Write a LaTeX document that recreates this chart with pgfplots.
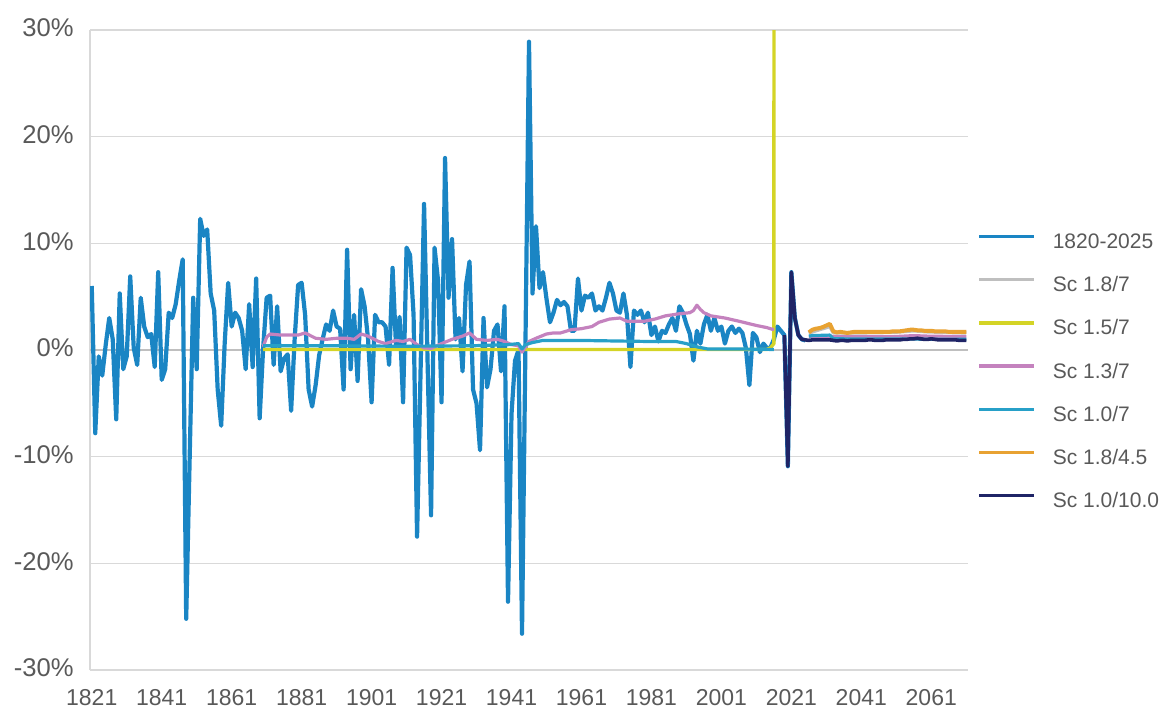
\documentclass[border=0pt]{standalone}
\usepackage{pgfplots}
\usepackage{pgfplotstable}
\pgfplotsset{compat=1.18}
\usepackage{fontspec}
\setmainfont{Liberation Sans}
\definecolor{txt}{HTML}{595959}
\definecolor{gridc}{HTML}{D9D9D9}
\definecolor{zeroc}{HTML}{BFBFBF}
\definecolor{cHist}{HTML}{1A85C4}
\definecolor{cGray}{HTML}{BFBFBF}
\definecolor{cYel}{HTML}{D4D426}
\definecolor{cPink}{HTML}{C482BE}
\definecolor{cLB}{HTML}{27A0C8}
\definecolor{cOr}{HTML}{E8A232}
\definecolor{cNavy}{HTML}{1F2466}

\pgfplotstableread{
year val
1821 6.0
1822 -7.8
1823 -0.6
1824 -2.4
1825 0.5
1826 3.0
1827 1.0
1828 -6.5
1829 5.3
1830 -1.8
1831 -0.6
1832 6.9
1833 0.2
1834 -1.4
1835 4.9
1836 2.2
1837 1.2
1838 1.5
1839 -1.6
1840 7.3
1841 -2.8
1842 -1.8
1843 3.5
1844 3.0
1845 4.3
1846 6.5
1847 8.5
1848 -25.2
1849 -10.0
1850 4.9
1851 -1.8
1852 12.3
1853 10.7
1854 11.3
1855 5.3
1856 3.7
1857 -3.7
1858 -7.1
1859 0.6
1860 6.3
1861 2.2
1862 3.5
1863 3.0
1864 1.8
1865 -1.8
1866 4.3
1867 -1.6
1868 6.7
1869 -6.4
1870 0.2
1871 4.9
1872 5.1
1873 -1.4
1874 4.1
1875 -2.0
1876 -0.8
1877 -0.4
1878 -5.7
1879 1.0
1880 6.1
1881 6.3
1882 3.3
1883 -3.7
1884 -5.3
1885 -3.3
1886 -0.5
1887 1.0
1888 2.4
1889 1.8
1890 3.7
1891 2.2
1892 2.0
1893 -3.7
1894 9.4
1895 -1.8
1896 3.3
1897 -2.9
1898 5.7
1899 4.1
1900 1.0
1901 -4.9
1902 3.3
1903 2.6
1904 2.6
1905 2.2
1906 -1.4
1907 7.7
1908 0.2
1909 3.1
1910 -4.9
1911 9.6
1912 8.9
1913 3.3
1914 -17.5
1915 -2.0
1916 13.7
1917 -1.0
1918 -15.5
1919 9.6
1920 6.5
1921 -4.9
1922 18.0
1923 4.9
1924 10.4
1925 1.0
1926 3.0
1927 -2.0
1928 6.1
1929 8.3
1930 -3.7
1931 -5.0
1932 -9.4
1933 3.0
1934 -3.5
1935 -1.8
1936 1.8
1937 2.4
1938 -2.0
1939 4.1
1940 -23.6
1941 -6.0
1942 -1.0
1943 0.0
1944 -26.6
1945 1.0
1946 28.9
1947 5.3
1948 11.6
1949 5.8
1950 7.3
1951 4.8
1952 2.6
1953 3.5
1954 4.7
1955 4.2
1956 4.5
1957 4.1
1958 1.8
1959 1.8
1960 6.7
1961 3.7
1962 5.1
1963 4.9
1964 5.3
1965 3.7
1966 4.1
1967 3.7
1968 4.9
1969 6.3
1970 5.3
1971 3.7
1972 3.5
1973 5.3
1974 3.3
1975 -1.6
1976 3.7
1977 3.3
1978 3.7
1979 2.6
1980 3.5
1981 1.4
1982 2.2
1983 0.8
1984 1.8
1985 1.6
1986 2.4
1987 3.0
1988 1.8
1989 4.1
1990 3.5
1991 2.4
1992 1.5
1993 -1.0
1994 1.8
1995 0.6
1996 2.4
1997 3.3
1998 1.8
1999 3.0
2000 1.8
2001 2.2
2002 0.6
2003 1.8
2004 2.2
2005 1.6
2006 2.0
2007 1.6
2008 0.2
2009 -3.3
2010 1.6
2011 1.2
2012 -0.2
2013 0.6
2014 0.2
2015 0.2
2016 1.0
2017 2.2
2018 1.8
2019 1.4
2020 -10.9
2021 7.3
2022 3.0
2023 1.4
2024 1.0
2025 0.9
}\hist

\pgfplotstableread{
year val
2019 1.4
2020 -10.9
2021 7.3
2022 3.0
2023 1.4
2024 1.0
2025 0.95
2026 0.9
2027 0.95
2028 0.95
2029 0.95
2030 0.95
2031 0.95
2032 0.95
2033 0.9
2034 0.85
2035 0.9
2036 0.9
2037 0.85
2038 0.9
2039 0.9
2040 0.9
2041 0.9
2042 0.9
2043 0.95
2044 0.95
2045 0.9
2046 0.9
2047 0.9
2048 0.95
2049 0.95
2050 0.95
2051 0.95
2052 0.95
2053 1.0
2054 1.0
2055 1.05
2056 1.05
2057 1.1
2058 1.05
2059 1.0
2060 1.0
2061 1.05
2062 1.0
2063 0.95
2064 0.95
2065 0.95
2066 0.95
2067 0.95
2068 0.95
2069 0.9
2070 0.9
2071 0.9
}\navy

\pgfplotstableread{
year val
2026 1.65
2027 1.9
2028 2.0
2029 2.05
2030 2.15
2031 2.3
2032 2.45
2033 1.75
2034 1.65
2035 1.7
2036 1.65
2037 1.6
2038 1.65
2039 1.7
2040 1.7
2041 1.7
2042 1.7
2043 1.7
2044 1.7
2045 1.7
2046 1.7
2047 1.7
2048 1.7
2049 1.7
2050 1.75
2051 1.75
2052 1.75
2053 1.8
2054 1.85
2055 1.9
2056 1.9
2057 1.85
2058 1.85
2059 1.8
2060 1.8
2061 1.8
2062 1.75
2063 1.75
2064 1.75
2065 1.75
2066 1.7
2067 1.7
2068 1.7
2069 1.7
2070 1.7
2071 1.7
}\orange

\begin{document}
\begin{tikzpicture}
\path[use as bounding box] (-45pt,-19.5pt) rectangle (536pt,335pt);
\begin{axis}[
  scale only axis, width=439pt, height=320pt,
  xmin=1820.5, xmax=2071.5, ymin=-30, ymax=30,
  xtick={1821,1841,...,2061},
  xticklabels={1821,1841,1861,1881,1901,1921,1941,1961,1981,2001,2021,2041,2061},
  ytick={-30,-20,...,30},
  yticklabels={-30\%,-20\%,-10\%,0\%,10\%,20\%,30\%},
  ymajorgrids, grid style={draw=gridc, line width=0.6pt},
  extra y ticks={0}, extra y tick labels={},
  extra y tick style={grid style={draw=zeroc, line width=0.8pt}},
  axis x line*=bottom, axis y line*=left,
  x axis line style={draw=none}, y axis line style={draw=gridc, line width=0.8pt, -},
  major tick length=0pt, tick style={draw=none},
  xticklabel style={font=\fontsize{11.5}{13}\selectfont, text=txt, yshift=-6pt},
  yticklabel style={font=\fontsize{12.8}{14}\selectfont, text=txt, xshift=-4.6pt, yshift=1pt},
  unbounded coords=jump,
  every axis plot/.append style={line join=round, mark=none},
  legend cell align=left,
  legend image code/.code={\draw[#1, line width=1.7pt] (0pt,3pt) -- (27.5pt,3pt);},
  legend style={at={(axis description cs:1,0.4656)}, anchor=west, xshift=4.5pt,
    draw=none, fill=none, inner xsep=0pt, inner ysep=0pt,
    font=\fontsize{10.5}{12}\selectfont, text=txt,
    nodes={inner sep=0pt, text height=8pt, text depth=2pt},
    row sep=11.6pt,
    /tikz/every odd column/.append style={column sep=8.5pt}},
]
\addplot[cHist, line width=2.1pt] table[x=year,y=val]{\hist};
\addlegendentry{1820-2025}
\addplot[cGray, line width=1.7pt] coordinates {
(2026,1.55) (2027,1.7) (2028,1.8) (2029,1.9) (2030,2.0) (2031,2.1) (2032,2.2) (2033,1.6)
(2040,1.6) (2050,1.65) (2056,1.8) (2060,1.7) (2071,1.6)};
\addlegendentry{Sc 1.8/7}
\addplot[cYel, line width=1.7pt] coordinates {
(1870,0.05) (1990,0.05) (2014,0.05) (2015,0.2) (2016,0.6) (2017,1000)};
\addlegendentry{Sc 1.5/7}
\addplot[cPink, line width=1.6pt] coordinates {
(1870,0.3) (1871,1.2) (1872,1.5) (1875,1.4) (1878,1.4) (1880,1.4) (1882,1.6) (1885,1.1)
(1888,1.0) (1891,1.1) (1894,1.1) (1896,1.0) (1898,1.5) (1900,1.3) (1903,0.8) (1905,0.6)
(1908,0.9) (1910,0.8) (1912,1.0) (1914,0.5) (1916,0.2) (1918,0.15) (1921,0.6) (1924,1.0)
(1927,1.3) (1929,1.6) (1931,1.0) (1934,0.9) (1937,1.0) (1939,0.8) (1941,0.5) (1943,0.4)
(1944,-0.2) (1946,0.8) (1948,1.1) (1951,1.5) (1953,1.6) (1955,1.6) (1958,1.9) (1961,2.0)
(1964,2.2) (1966,2.6) (1969,2.9) (1972,3.0) (1974,2.7) (1979,2.7) (1982,2.9) (1985,3.2)
(1989,3.4) (1992,3.5) (1993,3.7) (1994,4.2) (1995,3.8) (1996,3.5) (1998,3.2) (2002,3.0)
(2006,2.7) (2011,2.3) (2014,2.1) (2016,1.9) (2020,nan)
(2026,1.25) (2032,1.3) (2033,1.25) (2050,1.25) (2056,1.35) (2060,1.3) (2071,1.25)};
\addlegendentry{Sc 1.3/7}
\addplot[cLB, line width=1.6pt] coordinates {
(1870,0.4) (1890,0.4) (1910,0.35) (1930,0.4) (1940,0.5) (1943,0.6) (1944,0.1) (1945,0.5)
(1947,0.7) (1950,0.9) (1960,0.9) (1970,0.85) (1980,0.8) (1988,0.8) (1991,0.6) (1994,0.3)
(1997,0.1) (2005,0.1) (2016,0.05) (2020,nan)
(2026,1.3) (2027,1.35) (2032,1.4) (2033,1.05) (2071,1.0)};
\addlegendentry{Sc 1.0/7}
\addplot[cOr, line width=2.0pt] table[x=year,y=val]{\orange};
\addlegendentry{Sc 1.8/4.5}
\addplot[cNavy, line width=1.8pt] table[x=year,y=val]{\navy};
\addlegendentry{Sc 1.0/10.0}
\end{axis}
\end{tikzpicture}
\end{document}
